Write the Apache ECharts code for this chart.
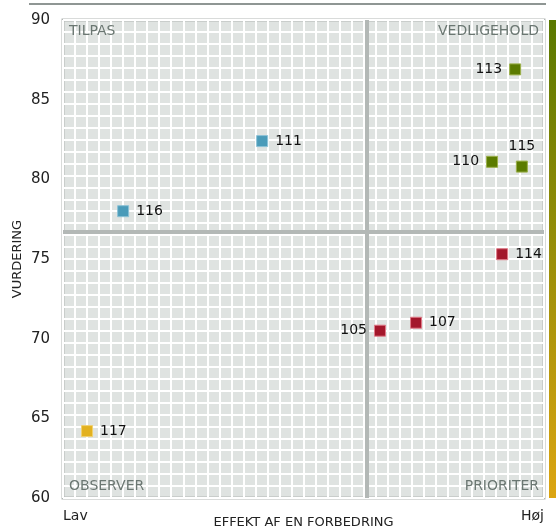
<!DOCTYPE html>
<html>
<head>
<meta charset="utf-8">
<script src="https://cdn.jsdelivr.net/npm/echarts@6/dist/echarts.min.js"></script>
<style>
  html, body { margin: 0; padding: 0; background: #fff; }
  #chart { width: 556px; height: 530px; }
</style>
</head>
<body>
<div id="chart"></div>
<script>
// punkter: id, effekt (0-100, Lav..Høj), vurdering
var ids = ['113', '115', '110', '114', '107', '105', '111', '116', '117'];
var effekt = [94.0, 95.4, 89.2, 91.3, 73.4, 65.9, 41.4, 12.5, 5.0];
var vurdering = [86.9, 80.8, 81.1, 75.3, 71.0, 70.5, 82.4, 78.0, 64.2];
var labelPos = ['left', 'top', 'left', 'right', 'right', 'left', 'right', 'right', 'right'];

var yTicks = [60, 65, 70, 75, 80, 85, 90];
var quadrantNames = ['TILPAS', 'VEDLIGEHOLD', 'OBSERVER', 'PRIORITER'];
var quadrantColors = ['#4a9bb9', '#5b7b00', '#e2b11f', '#a3172b'];
var quadrantBorders = ['#8cc2d6', '#9bb04a', '#f0d070', '#e07a88'];

function mean(a) {
    var s = 0;
    for (var i = 0; i < a.length; i++) s += a[i];
    return s / a.length;
}
var midX = mean(effekt);
var midY = mean(vurdering);

var points = [];
for (var i = 0; i < ids.length; i++) {
    var q = (vurdering[i] >= midY ? 0 : 2) + (effekt[i] >= midX ? 1 : 0);
    points.push({
        name: ids[i],
        value: [effekt[i], vurdering[i]],
        itemStyle: { color: quadrantColors[q], borderColor: quadrantBorders[q], borderWidth: 1, opacity: 1 },
        label: { position: labelPos[i] }
    });
}

var myChart = echarts.init(document.getElementById('chart'));

var option = {
    animation: false,
    textStyle: { fontFamily: 'DejaVu Sans' },
    grid: {
        left: 63, right: 12, top: 20, bottom: 32,
        outerBoundsMode: 'none',
        containLabel: false,
        show: true,
        backgroundColor: '#dfe3e1',
        borderColor: '#b3b8b6',
        borderWidth: 3
    },
    xAxis: [
        {
            type: 'value', min: 0, max: 100, interval: 100,
            name: 'EFFEKT AF EN FORBEDRING',
            nameLocation: 'middle', nameGap: 18, nameMoveOverlap: false,
            nameTextStyle: { fontSize: 13, color: '#222', verticalAlign: 'top' },
            axisLine: { show: false }, axisTick: { show: false },
            splitLine: { show: false },
            axisLabel: {
                fontSize: 14, color: '#222', margin: 11,
                alignMinLabel: 'left', alignMaxLabel: 'right',
                formatter: function (v) { return v === 0 ? 'Lav' : (v === 100 ? 'Høj' : ''); }
            }
        },
        {
            type: 'value', min: 0, max: 40, interval: 1, position: 'top',
            axisLine: { show: false }, axisTick: { show: false }, axisLabel: { show: false },
            splitLine: { show: true, lineStyle: { color: '#ffffff', width: 2 } }
        }
    ],
    yAxis: [
        {
            type: 'value', min: yTicks[0], max: yTicks[yTicks.length - 1], interval: 5,
            name: 'VURDERING',
            nameLocation: 'middle', nameGap: 39, nameMoveOverlap: false,
            nameTextStyle: { fontSize: 13, color: '#222' },
            axisLine: { show: false }, axisTick: { show: false },
            splitLine: { show: false },
            axisLabel: { fontSize: 15, color: '#222', margin: 13 }
        },
        {
            type: 'value', min: 0, max: 40, interval: 1, position: 'right',
            axisLine: { show: false }, axisTick: { show: false }, axisLabel: { show: false },
            splitLine: { show: true, lineStyle: { color: '#ffffff', width: 2 } }
        }
    ],
    graphic: [
        { type: 'line', shape: { x1: 29, y1: 4, x2: 546, y2: 4 }, style: { stroke: '#8f9694', lineWidth: 2 } },
        {
            type: 'rect', shape: { x: 549, y: 20, width: 7, height: 478 },
            style: {
                fill: new echarts.graphic.LinearGradient(0, 0, 0, 1, [
                    { offset: 0, color: '#5a7800' },
                    { offset: 1, color: '#dca512' }
                ])
            }
        },
        { type: 'text', left: 69, top: 24, z: 10, style: { text: quadrantNames[0], fontSize: 14, fill: '#6b7772', fontFamily: 'DejaVu Sans' } },
        { type: 'text', right: 17, top: 24, z: 10, style: { text: quadrantNames[1], fontSize: 14, fill: '#6b7772', fontFamily: 'DejaVu Sans' } },
        { type: 'text', left: 69, top: 479, z: 10, style: { text: quadrantNames[2], fontSize: 14, fill: '#6b7772', fontFamily: 'DejaVu Sans' } },
        { type: 'text', right: 17, top: 479, z: 10, style: { text: quadrantNames[3], fontSize: 14, fill: '#6b7772', fontFamily: 'DejaVu Sans' } }
    ],
    series: [
        {
            type: 'scatter',
            symbol: 'rect',
            symbolSize: 11,
            data: points,
            label: {
                show: true, distance: 7, fontSize: 14, color: '#111',
                formatter: '{b}'
            },
            markLine: {
                silent: true, symbol: 'none', z: 1,
                label: { show: false },
                lineStyle: { color: '#b3b8b6', width: 4, type: 'solid' },
                data: [{ xAxis: midX }, { yAxis: midY }]
            }
        }
    ]
};

myChart.setOption(option);
</script>
</body>
</html>
